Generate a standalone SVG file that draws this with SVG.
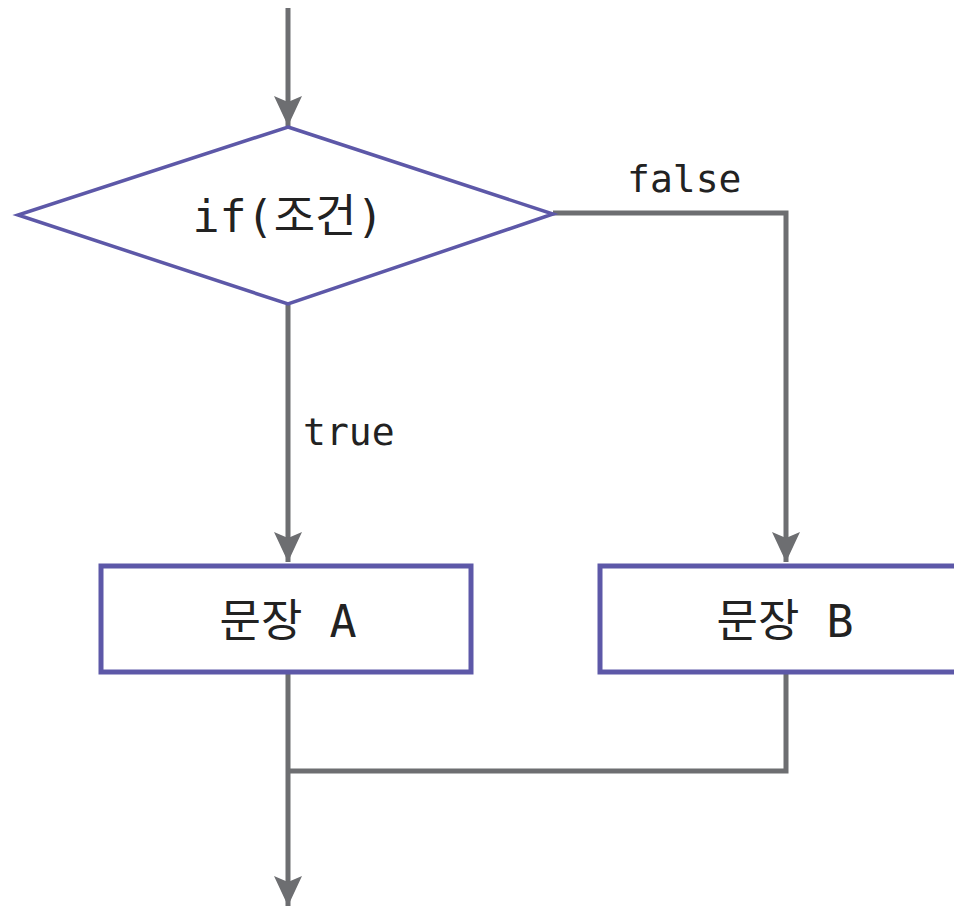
<svg xmlns="http://www.w3.org/2000/svg" width="954" height="910" viewBox="0 0 954 910">
<style>
.node{fill:#ffffff;stroke:#5d58a8;}
.conn{fill:none;stroke:#6d6e71;stroke-width:5;}
.t{font-family:"DejaVu Sans Mono","Noto Sans CJK KR",monospace;font-size:38px;fill:#222222;}
.nt{font-size:45px;}
</style>
<defs>
<marker id="arr" viewBox="0 0 30 28" refX="30" refY="14" markerWidth="30" markerHeight="28" markerUnits="userSpaceOnUse" orient="auto">
<path d="M0,0 L30,14 L0,28 L6,14 Z" fill="#6d6e71"/>
</marker>
</defs>
<rect width="954" height="910" fill="#ffffff"/>
<g id="connectors">
<line class="conn" x1="288" y1="8" x2="288" y2="126" marker-end="url(#arr)"/>
<line class="conn" x1="288" y1="305" x2="288" y2="562" marker-end="url(#arr)"/>
<polyline class="conn" points="553,213 786,213 786,562" marker-end="url(#arr)"/>
<line class="conn" x1="288" y1="673" x2="288" y2="906" marker-end="url(#arr)"/>
<polyline class="conn" points="786,673 786,771 288,771"/>
</g>
<g id="decision">
<polygon class="node" stroke-width="3.5" points="288,127 553,214 288,304 18,215"/>
<text class="t nt" x="288" y="232" text-anchor="middle">if(조건)</text>
</g>
<g id="stmtA">
<rect class="node" stroke-width="5" x="101" y="566" width="370" height="106"/>
<text class="t nt" x="288" y="637" text-anchor="middle">문장 A</text>
</g>
<g id="stmtB">
<rect class="node" stroke-width="5" x="600" y="566" width="360" height="106"/>
<text class="t nt" x="785" y="637" text-anchor="middle">문장 B</text>
</g>
<g id="labels">
<text class="t" x="303" y="445">true</text>
<text class="t" x="627" y="192">false</text>
</g>
</svg>
